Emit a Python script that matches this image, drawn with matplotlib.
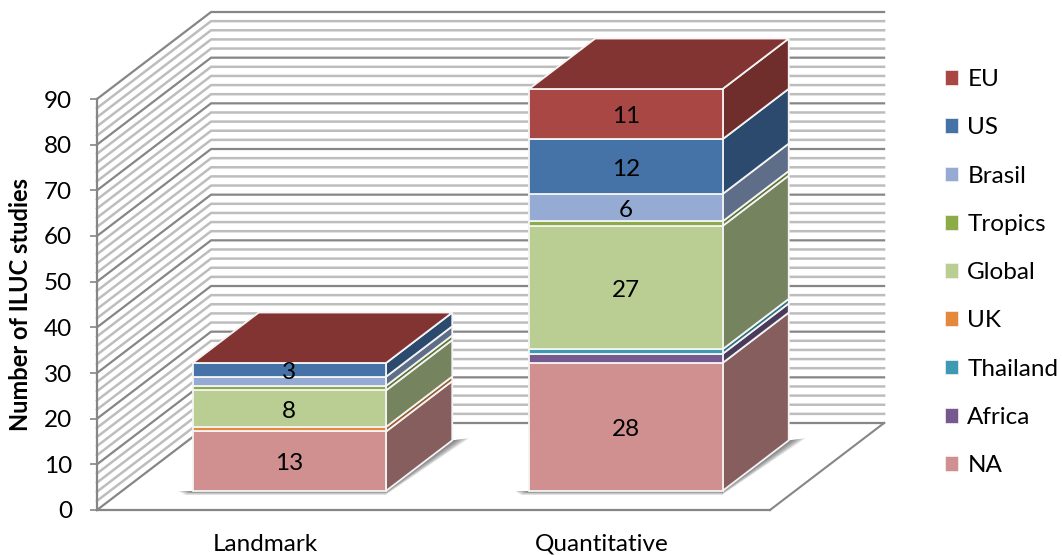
import matplotlib
matplotlib.use("Agg")
import matplotlib.pyplot as plt
from matplotlib.patches import Patch, Polygon

plt.rcParams["font.family"] = ["Lato", "DejaVu Sans"]

# =========================
# DATA
# =========================
categories = ["Landmark", "Quantitative"]
series_names = ["NA", "Africa", "Thailand", "UK", "Global", "Tropics", "Brasil", "US", "EU"]

na = [13, 28]
africa = [0, 2]
thailand = [0, 1]
uk = [1, 0]
global_ = [8, 27]
tropics = [1, 1]
brasil = [2, 6]
us = [3, 12]
eu = [0, 11]
series_values = [na, africa, thailand, uk, global_, tropics, brasil, us, eu]

front_colors = ["#D09090", "#75598F", "#3C9AB2", "#E5883C", "#BACD92",
                "#8CAC47", "#95ABD3", "#4572A7", "#A94745"]
side_colors = ["#875E5E", "#4A3A5C", "#2C6D7E", "#9A5A2A", "#75845F",
               "#5D7332", "#5F6E88", "#2C4A6E", "#6F2E2C"]
top_color = "#823433"

y_ticks = list(range(0, 91, 10))
minor_ticks = list(range(0, 91, 2))

# =========================
# GEOMETRY
# =========================
# one unit of depth moves a point this far (in x and y data units)
DEPTH_X = 0.339
DEPTH_Y = 19.05
BAR_WIDTH = 0.575
DEPTH_FRONT = 0.22
DEPTH_BACK = 0.80
FONT = 17.5


def proj(x, y, d):
    return (x + d * DEPTH_X, y + d * DEPTH_Y)


# =========================
# FIGURE SETUP
# =========================
fig = plt.figure(figsize=(10.62, 5.55), dpi=100)
ax = fig.add_axes([97 / 1062, 45 / 555, 673 / 1062, 411 / 555])
ax.set_xlim(0, 2)
ax.set_ylim(0, 90)
ax.patch.set_alpha(0)

for s in ["top", "right"]:
    ax.spines[s].set_visible(False)
for s in ["left", "bottom"]:
    ax.spines[s].set_color("#868686")
    ax.spines[s].set_linewidth(1.6)

ax.set_yticks(y_ticks)
ax.set_xticks([0.5, 1.5])
ax.set_xticklabels(categories)
ax.tick_params(axis="y", length=5, width=1.2, color="#868686", labelsize=FONT, pad=13)
ax.tick_params(axis="x", length=0, labelsize=FONT, pad=17)
ax.set_ylabel("Number of ILUC studies", fontsize=17, fontweight="bold")
ax.yaxis.set_label_coords(-0.0965, 0.5)

# =========================
# WALLS AND FLOOR
# =========================
for v in minor_ticks:
    major = v % 10 == 0
    color = "#868686" if major else "#bdbdbd"
    lw = 1.6 if major else 1.8
    x0, y0 = proj(0, v, 0)
    x1, y1 = proj(0, v, 1)
    x2, y2 = proj(2, v, 1)
    ax.plot([x0, x1, x2], [y0, y1, y2], color=color, lw=lw, clip_on=False,
            solid_joinstyle="miter", zorder=1 + major)

fx, fy = zip(proj(2, 0, 0), proj(2, 0, 1))
ax.plot(fx, fy, color="#868686", lw=1.5, clip_on=False, zorder=2)

# =========================
# BARS
# =========================
for i in range(len(categories)):
    xl = i + 0.5 - BAR_WIDTH / 2 - 0.003
    xr = xl + BAR_WIDTH

    # soft shadow on the floor
    for k in range(6, 0, -1):
        s = k / 6
        band = [proj(xl - 0.042 * s, 0, DEPTH_FRONT), proj(xr, 0, DEPTH_FRONT),
                proj(xr, -0.8 * s, DEPTH_FRONT), proj(xl - 0.02 * s, -0.8 * s, DEPTH_FRONT)]
        wedge = [proj(xr, 0, DEPTH_FRONT), proj(xr, -0.8 * s, DEPTH_FRONT),
                 proj(xr + 0.05 * s, 0.5 * s, DEPTH_BACK), proj(xr, 0, DEPTH_BACK)]
        for shape in (band, wedge):
            ax.add_patch(Polygon(shape, closed=True, fc="#303030", ec="none", alpha=0.14,
                                 clip_on=False, zorder=3))

    bottom = 0
    for j in range(len(series_names)):
        val = series_values[j][i]
        if val == 0:
            continue
        top = bottom + val

        front = [proj(xl, bottom, DEPTH_FRONT), proj(xr, bottom, DEPTH_FRONT),
                 proj(xr, top, DEPTH_FRONT), proj(xl, top, DEPTH_FRONT)]
        side = [proj(xr, bottom, DEPTH_FRONT), proj(xr, bottom, DEPTH_BACK),
                proj(xr, top, DEPTH_BACK), proj(xr, top, DEPTH_FRONT)]
        ax.add_patch(Polygon(side, closed=True, fc=side_colors[j], ec="#f4f4f4", lw=1.3,
                             clip_on=False, zorder=4))
        ax.add_patch(Polygon(front, closed=True, fc=front_colors[j], ec="#f4f4f4", lw=1.3,
                             clip_on=False, zorder=4))

        if val >= 3:
            cx, cy = proj(xl + BAR_WIDTH / 2, bottom + val / 2, DEPTH_FRONT)
            ax.annotate(str(val), (cx, cy), xytext=(0, -2), textcoords="offset points",
                        ha="center", va="center", fontsize=FONT, color="black", zorder=6)
        bottom = top

    lid = [proj(xl, bottom, DEPTH_FRONT), proj(xr, bottom, DEPTH_FRONT),
           proj(xr, bottom, DEPTH_BACK), proj(xl, bottom, DEPTH_BACK)]
    ax.add_patch(Polygon(lid, closed=True, fc=top_color, ec="#f4f4f4", lw=1.3,
                         clip_on=False, zorder=5))

# =========================
# LEGEND
# =========================
handles = [Patch(fc=c, ec="#f4f4f4", lw=0.5) for c in front_colors[::-1]]
fig.legend(handles, series_names[::-1], loc="upper left",
           bbox_to_anchor=(945 / 1062, 1 - 69 / 555), frameon=False, fontsize=FONT,
           handlelength=0.55, handleheight=0.55, handletextpad=0.37,
           labelspacing=1.122, borderpad=0, borderaxespad=0)

fig.savefig("out.png", dpi=100)
